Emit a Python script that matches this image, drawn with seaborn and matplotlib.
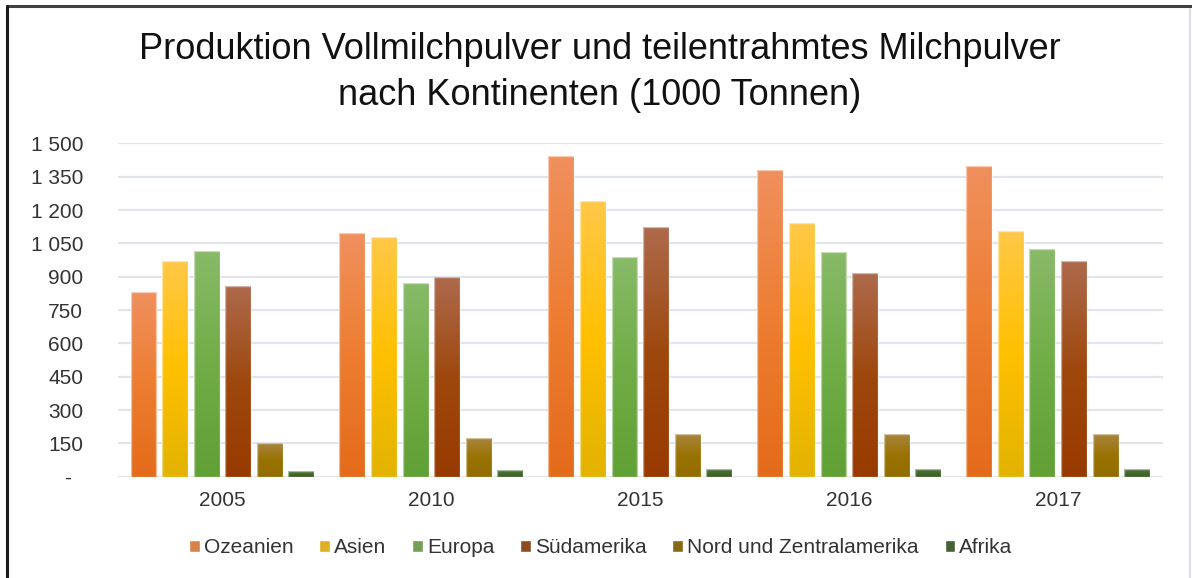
import numpy as np
import pandas as pd
import matplotlib
matplotlib.use("Agg")
import matplotlib.pyplot as plt
from matplotlib.colors import LinearSegmentedColormap, to_rgb
import seaborn as sns

years = ["2005", "2010", "2015", "2016", "2017"]
regions = ["Ozeanien", "Asien", "Europa", "Südamerika",
           "Nord und Zentralamerika", "Afrika"]
ozeanien = [832, 1097, 1443, 1382, 1398]
asien = [972, 1079, 1241, 1140, 1107]
europa = [1017, 872, 989, 1011, 1023]
suedamerika = [857, 899, 1124, 915, 972]
nord_zentral = [150, 174, 191, 191, 191]
afrika = [27, 30, 33, 33, 33]
yticks = [0, 150, 300, 450, 600, 750, 900, 1050, 1200, 1350, 1500]
ytick_labels = ["-  ", "150", "300", "450", "600", "750", "900",
                "1 050", "1 200", "1 350", "1 500"]

# base colour, light top, dark bottom (office style gradient)
colors = ["#ED7D31", "#FFC000", "#70AD47", "#9E480E", "#997300", "#43682B"]
tops = ["#F0905E", "#FFC848", "#88BA68", "#AE6A4C", "#A8843E", "#557A42"]
bottoms = ["#E46B1A", "#E2B300", "#60A035", "#983A00", "#936C00", "#3C5E26"]

series = [ozeanien, asien, europa, suedamerika, nord_zentral, afrika]
df = pd.DataFrame({
    "Jahr": np.repeat([years], len(regions), axis=0).ravel(),
    "Region": np.repeat(regions, len(years)),
    "Wert": np.concatenate(series),
})

sns.set_style("white")
plt.rcParams["font.family"] = ["Liberation Sans", "DejaVu Sans"]

fig = plt.figure(figsize=(11.92, 5.78), dpi=100)
ax = fig.add_axes([0.099, 0.1753, 0.8764, 0.5767])

sns.barplot(data=df, x="Jahr", y="Wert", hue="Region", order=years,
            hue_order=regions, palette=colors, width=0.907, gap=0.18,
            ax=ax, zorder=2)

# gradient fill for each bar
bars = [p for p in ax.patches if p.get_height() > 0]
for i, bar in enumerate(bars):
    k = i // len(years)
    cmap = LinearSegmentedColormap.from_list(
        "g", [to_rgb(bottoms[k]), to_rgb(colors[k]), to_rgb(tops[k])])
    x, w, h = bar.get_x(), bar.get_width(), bar.get_height()
    grad = np.linspace(0, 1, 256).reshape(-1, 1)
    im = ax.imshow(grad, cmap=cmap, origin="lower", aspect="auto",
                   extent=[x, x + w, 0, h], zorder=2)
    im.set_clip_path(bar)
    bar.set_facecolor("none")
    bar.set_edgecolor((1, 1, 1, 0.5))
    bar.set_linewidth(1.0)
    bar.set_zorder(3)

ax.set_xlim(-0.5, 4.5)
ax.set_ylim(0, 1500)
ax.set_yticks(yticks)
ax.set_yticklabels(ytick_labels)
ax.yaxis.grid(True, color="#E1E4EA", linewidth=1.6, zorder=0)
ax.set_axisbelow(True)
ax.set_xlabel("")
ax.set_ylabel("")
for s in ax.spines.values():
    s.set_visible(False)
ax.tick_params(axis="y", length=0, pad=25, labelsize=15, labelcolor="#333333")
ax.tick_params(axis="x", length=0, pad=10, labelsize=15, labelcolor="#333333")

sns.move_legend(ax, "center", bbox_to_anchor=(0.504, 0.052),
                bbox_transform=fig.transFigure, ncol=6, frameon=False,
                title=None, fontsize=15, handlelength=0.5, handleheight=0.5,
                handletextpad=0.2, columnspacing=1.25)
for t in ax.get_legend().get_texts():
    t.set_color("#333333")

fig.text(0.503, 0.8746,
         "Produktion Vollmilchpulver und teilentrahmtes Milchpulver\n"
         "nach Kontinenten (1000 Tonnen)",
         ha="center", va="center", fontsize=26, linespacing=1.38, color="#111111")

# chart frame
fig.add_artist(plt.Line2D([0.006, 1.0], [0.989, 0.989], transform=fig.transFigure,
                          color="#404040", linewidth=2.2))
fig.add_artist(plt.Line2D([0.006, 0.006], [0.0, 0.989], transform=fig.transFigure,
                          color="#1A1A1A", linewidth=2.2))
fig.add_artist(plt.Line2D([0.9985, 0.9985], [0.0, 0.985], transform=fig.transFigure,
                          color="#DADDE3", linewidth=1.5))

fig.savefig("out.png", dpi=100)
